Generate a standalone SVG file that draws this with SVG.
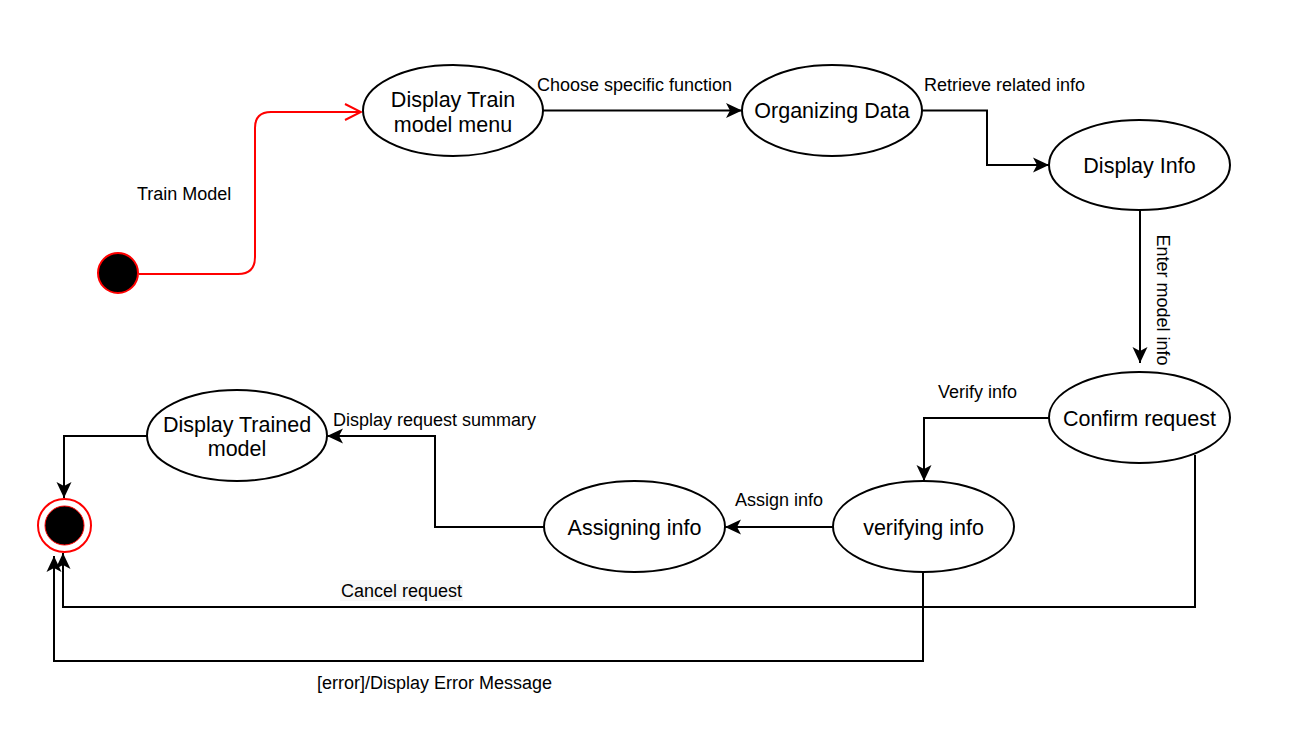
<svg xmlns="http://www.w3.org/2000/svg" width="1313" height="731" viewBox="0 0 1313 731">
  <style>
    .state ellipse { fill: #ffffff; stroke: #000000; stroke-width: 2; }
    .state text { font-family: "Liberation Sans", Arial, sans-serif; font-size: 21.5px; fill: #000000; text-anchor: middle; }
    .edge { fill: none; stroke: #000000; stroke-width: 2; marker-end: url(#arrow); }
    .label { font-family: "Liberation Sans", Arial, sans-serif; font-size: 18px; fill: #000000; }
  </style>
  <defs>
    <marker id="arrow" markerUnits="userSpaceOnUse" markerWidth="18" markerHeight="18" refX="17" refY="9" orient="auto">
      <path d="M1,1.5 L17,9 L1,16.5 L5,9 Z" fill="#000000"/>
    </marker>
    <marker id="open-red" markerUnits="userSpaceOnUse" markerWidth="20" markerHeight="20" refX="18" refY="10" orient="auto">
      <path d="M2,2 L18,10 L2,18" fill="none" stroke="#ff0000" stroke-width="2"/>
    </marker>
  </defs>

  <rect width="1313" height="731" fill="#ffffff"/>

  <!-- transitions -->
  <g id="connectors">
    <path d="M139,274 H238 Q255,274 255,257 V128 Q255,112 271,112 H361" fill="none" stroke="#ff0000" stroke-width="2" marker-end="url(#open-red)"/>
    <path class="edge" d="M543,110.5 H742"/>
    <path class="edge" d="M922,110.5 H987 V165 H1049"/>
    <path class="edge" d="M1140,210 V363"/>
    <path class="edge" d="M1049,418 H924 V481"/>
    <path class="edge" d="M833,527 H725"/>
    <path class="edge" d="M544,527 H435 V436 H327"/>
    <path class="edge" d="M147,436 H64 V498"/>
    <path class="edge" d="M1195,455 V607 H63 V553"/>
    <path class="edge" d="M923,572 V661 H54 V556"/>

    <text class="label" x="137" y="200">Train Model</text>
    <text class="label" x="537" y="91">Choose specific function</text>
    <text class="label" x="924" y="91">Retrieve related info</text>
    <text class="label" transform="translate(1157,300) rotate(90)" text-anchor="middle">Enter model info</text>
    <text class="label" x="938" y="398">Verify info</text>
    <text class="label" x="735" y="506">Assign info</text>
    <text class="label" x="333" y="426">Display request summary</text>
    <rect x="340" y="580" width="123" height="21" fill="#f7f7f7"/>
    <text class="label" x="341" y="597">Cancel request</text>
    <text class="label" x="317" y="689">[error]/Display Error Message</text>
  </g>

  <!-- initial state -->
  <g id="start">
    <circle cx="118" cy="273" r="20" fill="#000000" stroke="#ff0000" stroke-width="2"/>
  </g>

  <g id="display-train-menu" class="state">
    <ellipse cx="453" cy="110.5" rx="90" ry="45.5"/>
    <text x="453" y="107">Display Train</text>
    <text x="453" y="132">model menu</text>
  </g>

  <g id="organizing-data" class="state">
    <ellipse cx="832" cy="110.5" rx="90" ry="45.5"/>
    <text x="832" y="118">Organizing Data</text>
  </g>

  <g id="display-info" class="state">
    <ellipse cx="1139.5" cy="165" rx="90.5" ry="45"/>
    <text x="1139.5" y="173">Display Info</text>
  </g>

  <g id="confirm-request" class="state">
    <ellipse cx="1139.5" cy="417.5" rx="90.5" ry="45.5"/>
    <text x="1139.5" y="425.5">Confirm request</text>
  </g>

  <g id="verifying-info" class="state">
    <ellipse cx="923.5" cy="526.5" rx="90.5" ry="45.5"/>
    <text x="923.5" y="534.5">verifying info</text>
  </g>

  <g id="assigning-info" class="state">
    <ellipse cx="634.5" cy="526.5" rx="90.5" ry="45.5"/>
    <text x="634.5" y="534.5">Assigning info</text>
  </g>

  <g id="display-trained-model" class="state">
    <ellipse cx="237" cy="435.5" rx="90" ry="45.5"/>
    <text x="237" y="431.5">Display Trained</text>
    <text x="237" y="456">model</text>
  </g>

  <!-- final state -->
  <g id="end">
    <circle cx="64.5" cy="525.5" r="26.5" fill="#ffffff" stroke="#ff0000" stroke-width="2"/>
    <circle cx="64.5" cy="525.5" r="19.5" fill="#000000" stroke="#ff0000" stroke-width="1"/>
  </g>
</svg>
